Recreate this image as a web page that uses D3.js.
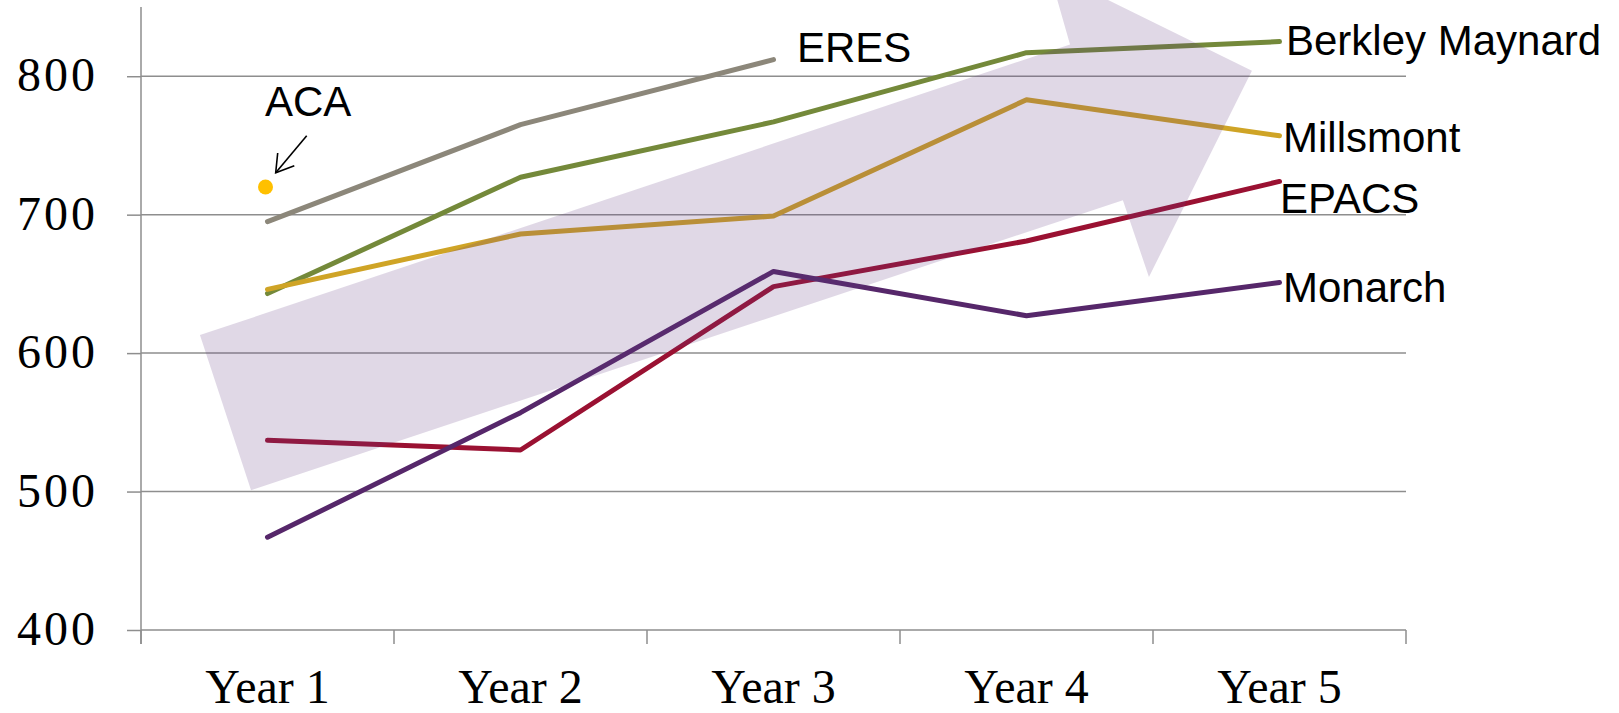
<!DOCTYPE html>
<html>
<head>
<meta charset="utf-8">
<script src="https://cdn.jsdelivr.net/npm/d3@7"></script>
<style>
  html, body { margin: 0; padding: 0; background: #fff; }
  svg { display: block; }
</style>
</head>
<body>
<svg id="chart" width="1619" height="713"></svg>
<script>
// ---- Data ----
const categories = ["Year 1", "Year 2", "Year 3", "Year 4", "Year 5"];
const yTicks = [400, 500, 600, 700, 800];

const eres      = [695, 765, 812];
const berkley   = [643, 727, 767, 817, 825];
const millsmont = [646, 686, 699, 783, 757];
const epacs     = [537, 530, 648, 681, 724];
const monarch   = [467, 557, 659, 627, 651];
const aca       = [720];

const seriesNames  = ["ERES", "Berkley Maynard", "Millsmont", "EPACS", "Monarch"];
const seriesValues = [eres, berkley, millsmont, epacs, monarch];
const seriesColors = ["#8C877A", "#74893A", "#CFA426", "#9A1132", "#56276A"];

// Trend arrow outline in data units (category index, value)
const arrowIdx = [-0.267, 3.172, 3.089, 3.891, 3.484, 3.381, -0.065];
const arrowVal = [613, 823, 876, 804, 655, 710.5, 501];

// ---- Scales ----
const svg = d3.select("#chart");
const pL = 141, pR = 1406, pT = 7, pB = 630;

const x = d3.scaleBand().domain(categories).range([pL, pR]).paddingInner(0).paddingOuter(0);
const xc = d => x(d) + x.bandwidth() / 2;
const xi = d3.scaleLinear().domain([0, 4]).range([xc(categories[0]), xc(categories[4])]);
const y = d3.scaleLinear().domain([400, 850]).range([pB, pT]);

const gridColor = "#8E8E8E";

// gridlines
svg.append("g").selectAll("line")
  .data(yTicks.filter(t => t > 400))
  .join("line")
  .attr("x1", pL).attr("x2", pR)
  .attr("y1", d => y(d)).attr("y2", d => y(d))
  .attr("stroke", gridColor).attr("stroke-width", 1.5);

// y axis
const yAxis = svg.append("g").attr("transform", `translate(${pL},0)`)
  .call(d3.axisLeft(y).tickValues(yTicks).tickSize(14).tickPadding(0).tickFormat(""));
yAxis.select(".domain").attr("stroke", gridColor).attr("stroke-width", 1.5)
  .attr("d", `M0,${pT}V${pB + 14}`);
yAxis.selectAll(".tick line").attr("stroke", gridColor).attr("stroke-width", 1.5);

svg.append("g").selectAll("text")
  .data(yTicks).join("text")
  .attr("x", 98).attr("y", d => y(d) + 15)
  .attr("text-anchor", "end")
  .attr("font-family", "'Liberation Serif', 'DejaVu Serif', serif")
  .attr("font-size", 48)
  .attr("letter-spacing", 3)
  .attr("fill", "#000")
  .text(d => d);

// x axis
const boundaries = categories.map(c => x(c)).concat([pR]);
const xg = svg.append("g");
xg.append("line").attr("x1", pL).attr("x2", pR).attr("y1", pB).attr("y2", pB)
  .attr("stroke", gridColor).attr("stroke-width", 1.5);
xg.selectAll("line.tk").data(boundaries).join("line").attr("class", "tk")
  .attr("x1", d => d).attr("x2", d => d).attr("y1", pB).attr("y2", pB + 14)
  .attr("stroke", gridColor).attr("stroke-width", 1.5);
xg.selectAll("text").data(categories).join("text")
  .attr("x", d => xc(d)).attr("y", 703)
  .attr("text-anchor", "middle")
  .attr("font-family", "'Liberation Serif', 'DejaVu Serif', serif")
  .attr("font-size", 48)
  .attr("fill", "#000")
  .text(d => d);

// lines
const line = d3.line().x((d, i) => xc(categories[i])).y(d => y(d));
svg.append("g").selectAll("path")
  .data(seriesValues).join("path")
  .attr("d", d => line(d))
  .attr("fill", "none")
  .attr("stroke", (d, i) => seriesColors[i])
  .attr("stroke-width", 5)
  .attr("stroke-linecap", "round")
  .attr("stroke-linejoin", "round");

// ACA point
svg.append("circle")
  .attr("cx", xc(categories[0]) - 2).attr("cy", y(aca[0]))
  .attr("r", 7.5).attr("fill", "#FFC000");

// trend arrow overlay
const arrowPts = arrowIdx.map((v, i) => [xi(v), y(arrowVal[i])]);
svg.append("polygon")
  .attr("points", arrowPts.map(p => p.join(",")).join(" "))
  .attr("fill", "#643C82").attr("fill-opacity", 0.2);

// labels
const labelFont = "'Liberation Sans', Arial, sans-serif";
const labels = [
  { t: "ERES", x: 797, y: 62 },
  { t: "Berkley Maynard", x: 1286, y: 55 },
  { t: "Millsmont", x: 1283, y: 152 },
  { t: "EPACS", x: 1280, y: 213 },
  { t: "Monarch", x: 1283, y: 302 },
  { t: "ACA", x: 265, y: 116 }
];
svg.append("g").selectAll("text").data(labels).join("text")
  .attr("x", d => d.x).attr("y", d => d.y)
  .attr("font-family", labelFont).attr("font-size", 42).attr("fill", "#000")
  .text(d => d.t);

// ACA callout arrow
const ca = svg.append("g").attr("stroke", "#000").attr("stroke-width", 1.6).attr("fill", "none");
ca.append("line").attr("x1", 306.7).attr("y1", 135.7).attr("x2", 275.7).attr("y2", 172.7);
ca.append("path").attr("d", "M277.7,153 L275.7,172.7 L294.3,165.7");
</script>
</body>
</html>
